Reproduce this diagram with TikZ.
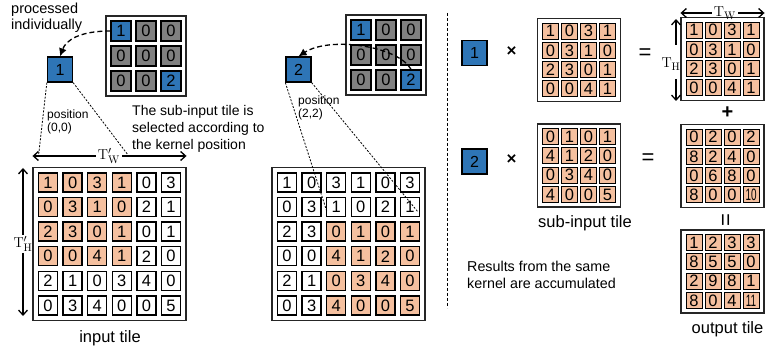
\documentclass[tikz,border=0pt]{standalone}
\usepackage[no-math]{fontspec}
\setmainfont{Liberation Sans}
\usepackage{graphicx}
\usetikzlibrary{arrows.meta}
\definecolor{peach}{HTML}{F5C09F}
\definecolor{kblue}{HTML}{2E75B6}
\definecolor{kgray}{HTML}{808080}
\newcommand\fs[1]{\fontsize{#1}{#1}\selectfont}
\newcommand\dig[1]{\ifnum#1>9 \scalebox{0.6}[1]{#1}\else#1\fi}
\begin{document}
\begin{tikzpicture}[x=1pt,y=-1pt,
  bigcell/.style={draw=black, line width=1.4pt, minimum width=19pt, minimum height=19pt, inner sep=0pt, font=\fs{16.5}},
  kcell/.style={draw=black, line width=1.4pt, minimum width=20pt, minimum height=20pt, inner sep=0pt, font=\fs{16.5}},
  smcell/.style={draw=black, line width=1pt, fill=peach, minimum width=16pt, minimum height=16pt, inner sep=0pt, font=\fs{16.5}},
  outerbox/.style={draw=black!85, line width=1.1pt, inner sep=0pt},
  bluesq/.style={draw=black, line width=1.3pt, fill=kblue, minimum width=25pt, minimum height=25pt, inner sep=0pt, font=\fs{16}},
  dimarrow/.style={line width=1.3pt, -{Straight Barb[length=5pt,width=9pt]}},
  curvarrow/.style={line width=1.3pt, dash pattern=on 5pt off 3pt, -{Latex[length=8pt,width=8pt]}},
  projline/.style={line width=0.8pt, dash pattern=on 2pt off 1.5pt},
  sepline/.style={line width=0.8pt, dash pattern=on 3pt off 2pt},
  lbl/.style={font=\fs{16.5}, inner sep=0pt},
  txt/.style={anchor=west, align=left, inner sep=0pt}
]
\useasboundingbox (0,0) rectangle (770,352);

% ---------- input tile (left) ----------
\node[outerbox, minimum width=153pt, minimum height=153pt] (inbox) at (109.5,244) {};
\foreach \row [count=\r] in {{1,0,3,1,0,3},{0,3,1,0,2,1},{2,3,0,1,0,1},{0,0,4,1,2,0},{2,1,0,3,4,0},{0,3,4,0,0,5}} {
  \foreach \v [count=\c] in \row {
    \pgfmathtruncatemacro\hl{and(\r<5,\c<5)}
    \ifnum\hl=1 \def\fc{peach}\else\def\fc{white}\fi
    \node[bigcell, fill=\fc] (in-\r-\c) at ({109.5+(\c-3.5)*24.6},{244+(\r-3.5)*24.6}) {\v};
  }
}
% ---------- input tile (middle) ----------
\node[outerbox, minimum width=153pt, minimum height=153pt] (midbox) at (348.5,244) {};
\foreach \row [count=\r] in {{1,0,3,1,0,3},{0,3,1,0,2,1},{2,3,0,1,0,1},{0,0,4,1,2,0},{2,1,0,3,4,0},{0,3,4,0,0,5}} {
  \foreach \v [count=\c] in \row {
    \pgfmathtruncatemacro\hl{and(\r>2,\c>2)}
    \ifnum\hl=1 \def\fc{peach}\else\def\fc{white}\fi
    \node[bigcell, fill=\fc] (mid-\r-\c) at ({348.5+(\c-3.5)*24.6},{244+(\r-3.5)*24.6}) {\v};
  }
}

% ---------- kernels ----------
\node[outerbox, minimum width=80pt, minimum height=80pt] (k1box) at (146,56) {};
\node[outerbox, minimum width=80pt, minimum height=80pt] (k2box) at (386,55) {};
\foreach \row [count=\r] in {{1,0,0},{0,0,0},{0,0,2}} {
  \foreach \v [count=\c] in \row {
    \ifnum\v>0 \def\fc{kblue}\else\def\fc{kgray}\fi
    \node[kcell, fill=\fc] (ka-\r-\c) at ({146+(\c-2)*25},{56+(\r-2)*25}) {\v};
    \node[kcell, fill=\fc] (kb-\r-\c) at ({386+(\c-2)*25},{55+(\r-2)*25}) {\v};
  }
}

% ---------- single kernel elements ----------
\node[bluesq] (b1) at (60,69.5) {1};
\node[bluesq] (b2) at (298.5,69.5) {2};

\draw[curvarrow] (ka-1-1.west) .. controls (80,31) and (66,40) .. (b1.north);
\draw[curvarrow] (kb-3-3.north) .. controls (398,46) and (330,36) .. (b2.north);

% projection lines
\coordinate (p1a) at (38.5,156);
\coordinate (p1b) at (128,155);
\coordinate (p2a) at (327,212);
\coordinate (p2b) at (418,212);
\draw[projline] (b1.south west) -- (p1a);
\draw[projline] (b1.south east) -- (p1b);
\draw[projline] (b2.south west) -- (p2a);
\draw[projline] (b2.south east) -- (p2b);

% texts
\node[txt, font=\fontsize{14.5}{16}\selectfont] (proc) at (11,18) {processed\\individually};
\node[txt, font=\fontsize{12}{13.5}\selectfont] (pos1) at (47,122) {position\\(0,0)};
\node[txt, font=\fontsize{12}{13.5}\selectfont] (pos2) at (298,108) {position\\(2,2)};
\node[txt, font=\fontsize{14}{16.8}\selectfont] (subtxt) at (132,129) {The sub-input tile is\\selected according to\\the kernel position};
\node[lbl] (inlbl) at (110,338) {input tile};

% dimension arrows (input tile)
\node[font=\fs{15}, inner sep=2pt] (tw) at (109,156) {$\mathrm{T}'_{\mathrm{W}}$};
\draw[dimarrow] (tw.west) -- (tw.west -| inbox.west);
\draw[dimarrow] (tw.east) -- (tw.east -| inbox.east);
\node[font=\fs{15}, inner sep=1pt] (th) at (23,244) {$\mathrm{T}'_{\mathrm{H}}$};
\coordinate (thtop) at (23,168);
\coordinate (thbot) at (23,316);
\draw[dimarrow] (th.north) -- (thtop);
\draw[dimarrow] (th.south) -- (thbot);

% separator
\coordinate (sepa) at (447,13);
\coordinate (sepb) at (447,308);
\draw[sepline] (sepa) -- (sepb);

% ---------- right side ----------
\node[bluesq] (rb1) at (474.5,53) {1};
\node[bluesq] (rb2) at (474.5,161.5) {2};
\node[font=\fs{17}\bfseries, inner sep=0pt] (x1) at (511.5,52) {×};
\node[font=\fs{17}\bfseries, inner sep=0pt] (x2) at (511.5,160) {×};
\node[font=\fs{22}, inner sep=0pt] (eq1) at (645,54) {=};
\node[font=\fs{22}, inner sep=0pt] (eq2) at (648,159) {=};
\node[font=\fs{20}\bfseries, inner sep=0pt] (plus) at (727.5,113) {+};
\node[font=\fs{22}, inner sep=0pt, rotate=90] (eq3) at (727.5,220) {=};

\foreach \nm/\cx/\cy/\vals in {
  s1/579/60/{{1,0,3,1},{0,3,1,0},{2,3,0,1},{0,0,4,1}},
  s2/579/165.5/{{0,1,0,1},{4,1,2,0},{0,3,4,0},{4,0,0,5}},
  o1/722.5/59/{{1,0,3,1},{0,3,1,0},{2,3,0,1},{0,0,4,1}},
  o2/722.5/166/{{0,2,0,2},{8,2,4,0},{0,6,8,0},{8,0,0,10}},
  o3/722.5/271.5/{{1,2,3,3},{8,5,5,0},{2,9,8,1},{8,0,4,11}}} {
  \node[outerbox, minimum width=83pt, minimum height=83pt] (\nm box) at (\cx,\cy) {};
  \foreach \row [count=\r] in \vals {
    \foreach \v [count=\c] in \row {
      \node[smcell] (\nm-\r-\c) at ({\cx+(\c-2.5)*19},{\cy+(\r-2.5)*19.3}) {\dig{\v}};
    }
  }
}

\node[lbl] (sublbl) at (585,223) {sub-input tile};
\node[lbl] (outlbl) at (727.5,329) {output tile};
\node[txt, font=\fontsize{14.3}{16.7}\selectfont] (restxt) at (467,275) {Results from the same\\kernel are accumulated};

% dimension arrows (output tile)
\node[font=\fs{15}, inner sep=2pt] (tw2) at (725,13) {$\mathrm{T}_{\mathrm{W}}$};
\draw[dimarrow] (tw2.west) -- (tw2.west -| o1box.west);
\draw[dimarrow] (tw2.east) -- (tw2.east -| o1box.east);
\node[font=\fs{15}, inner sep=0pt] (th2) at (671,64) {$\mathrm{T}_{\mathrm{H}}$};
\coordinate (th2a) at (676,45);
\coordinate (th2b) at (676,19);
\coordinate (th2c) at (676,79);
\coordinate (th2d) at (676,101);
\draw[dimarrow] (th2a) -- (th2b);
\draw[dimarrow] (th2c) -- (th2d);
\end{tikzpicture}
\end{document}
